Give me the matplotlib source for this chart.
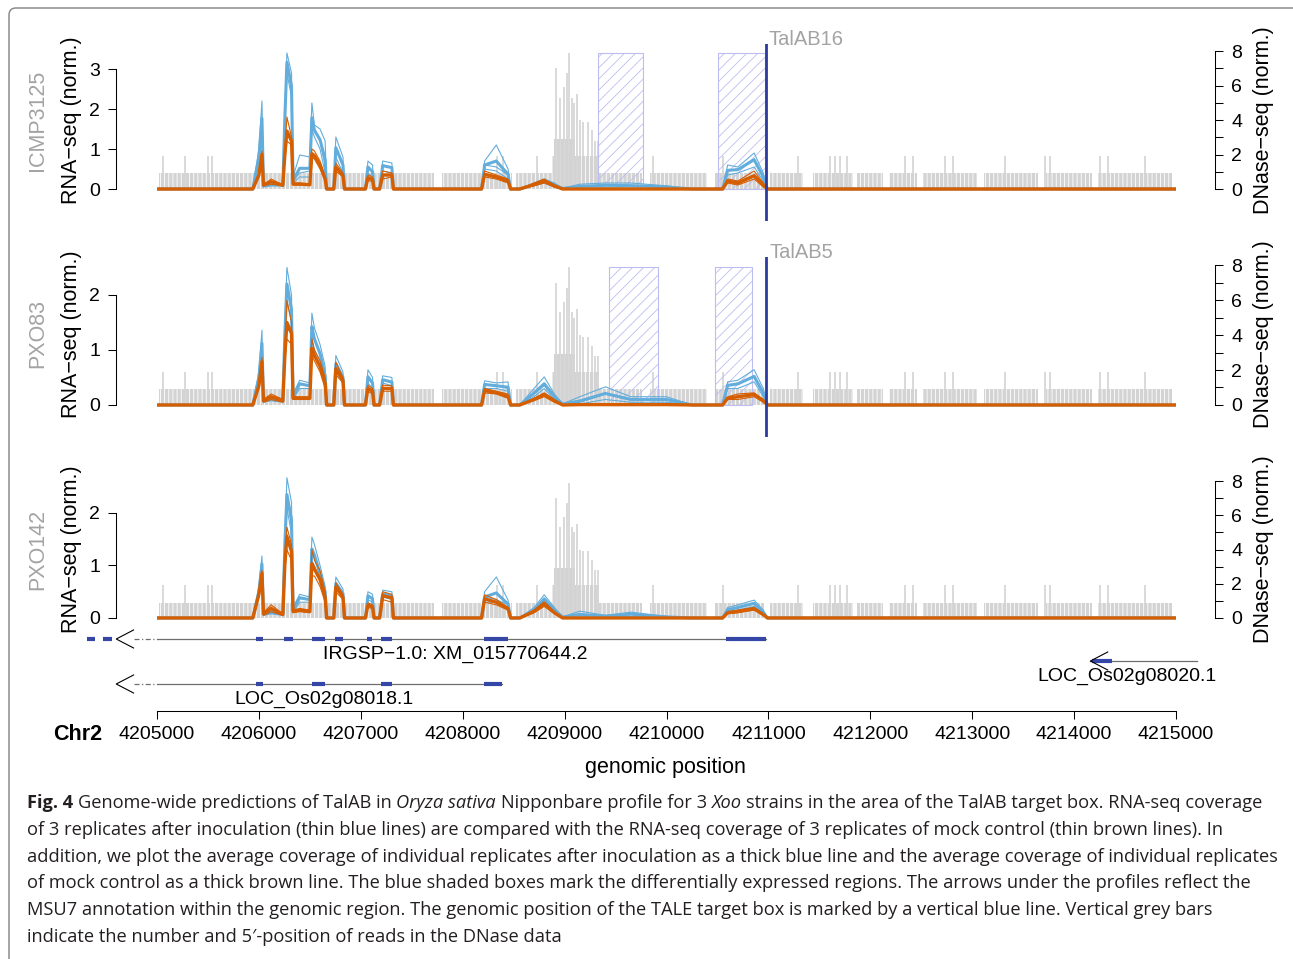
import numpy as np
import matplotlib
matplotlib.use("Agg")
import matplotlib.pyplot as plt
from matplotlib.patches import FancyBboxPatch, Rectangle
from matplotlib.transforms import IdentityTransform

W, H = 1293, 959
plt.rcParams['font.family'] = ['Liberation Sans', 'DejaVu Sans']
plt.rcParams['hatch.linewidth'] = 0.6

CHR_START = 4205000
CHR_END = 4215000
X_TICKS = [4205000, 4206000, 4207000, 4208000, 4209000, 4210000,
           4211000, 4212000, 4213000, 4214000, 4215000]

# RNA-seq coverage, knot positions (bp after CHR_START) shared by all strains
RNA_POS = [0, 940, 1000, 1030, 1045, 1120, 1235,
           1255, 1275, 1320, 1335, 1400, 1500, 1520, 1545, 1600, 1650, 1665,
           1735, 1755, 1825, 1840, 2045, 2070, 2115, 2130, 2185, 2215, 2305, 2320,
           3185, 3215, 3330, 3445, 3470,
           3560, 3700, 3800, 3900, 3980, 4150, 4400, 4650, 5000, 5250, 5550,
           5600, 5700, 5860, 5950, 5990, 10000]

# ICMP3125
icmp_blue = [
    [0, 0, 1.0, 2.2, 0.1, 0.15, 0.12,
     2.0, 3.4, 2.9, 0.3, 0.85, 0.8, 2.15, 1.6, 1.5, 1.2, 0,
     0, 1.3, 0.8, 0, 0, 0.7, 0.6, 0, 0, 0.7, 0.65, 0,
     0, 0.7, 1.1, 0.5, 0,
     0, 0.15, 0.25, 0.15, 0.02, 0.12, 0.15, 0.15, 0.08, 0, 0,
     0.6, 0.55, 0.9, 0.4, 0, 0],
    [0, 0, 0.8, 1.7, 0.08, 0.1, 0.1,
     1.8, 3.2, 2.5, 0.2, 0.4, 0.45, 1.7, 1.5, 1.2, 0.6, 0,
     0, 1.0, 0.6, 0, 0, 0.55, 0.4, 0, 0, 0.6, 0.55, 0,
     0, 0.6, 0.55, 0.35, 0,
     0, 0.1, 0.2, 0.1, 0.02, 0.05, 0.1, 0.08, 0.05, 0, 0,
     0.45, 0.5, 0.75, 0.3, 0, 0],
    [0, 0, 0.6, 1.4, 0.05, 0.08, 0.08,
     1.6, 2.9, 2.3, 0.15, 0.3, 0.3, 1.5, 1.3, 1.0, 0.4, 0,
     0, 0.8, 0.4, 0, 0, 0.4, 0.3, 0, 0, 0.45, 0.4, 0,
     0, 0.5, 0.45, 0.25, 0,
     0, 0.08, 0.15, 0.05, 0, 0.02, 0.03, 0.02, 0.02, 0, 0,
     0.35, 0.4, 0.55, 0.2, 0, 0],
]
icmp_brown = [
    [0, 0, 0.4, 0.95, 0.1, 0.25, 0.1,
     1.0, 1.8, 1.3, 0.15, 0.15, 0.12, 1.0, 0.95, 0.7, 0.3, 0,
     0, 0.65, 0.4, 0, 0, 0.35, 0.3, 0, 0, 0.45, 0.4, 0,
     0, 0.45, 0.35, 0.25, 0,
     0, 0.15, 0.25, 0.1, 0, 0, 0, 0, 0, 0, 0,
     0.25, 0.2, 0.45, 0.15, 0, 0],
    [0, 0, 0.35, 0.85, 0.12, 0.18, 0.1,
     0.9, 1.35, 1.2, 0.12, 0.12, 0.1, 0.85, 0.8, 0.6, 0.25, 0,
     0, 0.55, 0.3, 0, 0, 0.3, 0.2, 0, 0, 0.35, 0.35, 0,
     0, 0.35, 0.3, 0.2, 0,
     0, 0.1, 0.2, 0.08, 0, 0, 0, 0, 0, 0, 0,
     0.2, 0.15, 0.3, 0.1, 0, 0],
    [0, 0, 0.3, 0.8, 0.08, 0.12, 0.08,
     0.7, 1.2, 1.1, 0.1, 0.1, 0.1, 0.8, 0.75, 0.5, 0.2, 0,
     0, 0.45, 0.3, 0, 0, 0.2, 0.2, 0, 0, 0.25, 0.3, 0,
     0, 0.3, 0.25, 0.15, 0,
     0, 0.08, 0.15, 0.05, 0, 0, 0, 0, 0, 0, 0,
     0.15, 0.1, 0.25, 0.05, 0, 0],
]

# PXO83
pxo83_blue = [
    [0, 0, 0.6, 1.36, 0.1, 0.12, 0.1,
     1.5, 2.5, 2.0, 0.2, 0.45, 0.4, 1.67, 1.4, 1.1, 0.7, 0,
     0, 0.9, 0.6, 0, 0, 0.64, 0.5, 0, 0, 0.53, 0.5, 0,
     0, 0.44, 0.4, 0.42, 0,
     0, 0.3, 0.51, 0.2, 0.02, 0.15, 0.33, 0.15, 0.15, 0, 0,
     0.42, 0.45, 0.64, 0.3, 0, 0],
    [0, 0, 0.5, 1.1, 0.08, 0.1, 0.08,
     1.3, 2.2, 1.7, 0.15, 0.4, 0.35, 1.4, 1.2, 0.9, 0.5, 0,
     0, 0.75, 0.5, 0, 0, 0.5, 0.4, 0, 0, 0.45, 0.4, 0,
     0, 0.38, 0.35, 0.3, 0,
     0, 0.2, 0.35, 0.15, 0.02, 0.05, 0.2, 0.1, 0.1, 0, 0,
     0.35, 0.4, 0.5, 0.2, 0, 0],
    [0, 0, 0.4, 0.9, 0.05, 0.08, 0.05,
     1.1, 1.9, 1.5, 0.1, 0.3, 0.3, 1.2, 1.0, 0.8, 0.4, 0,
     0, 0.6, 0.4, 0, 0, 0.4, 0.3, 0, 0, 0.4, 0.35, 0,
     0, 0.3, 0.3, 0.25, 0,
     0, 0.15, 0.3, 0.1, 0.01, 0.02, 0.1, 0.05, 0.05, 0, 0,
     0.3, 0.3, 0.42, 0.15, 0, 0],
]
pxo83_brown = [
    [0, 0, 0.4, 0.87, 0.1, 0.2, 0.1,
     1.0, 1.9, 1.5, 0.15, 0.15, 0.15, 1.2, 1.0, 0.8, 0.5, 0,
     0, 0.78, 0.5, 0, 0, 0.36, 0.3, 0, 0, 0.36, 0.35, 0,
     0, 0.3, 0.25, 0.2, 0,
     0, 0.12, 0.22, 0.1, 0, 0.02, 0.02, 0.02, 0.02, 0, 0,
     0.15, 0.2, 0.22, 0.1, 0, 0],
    [0, 0, 0.35, 0.8, 0.08, 0.15, 0.08,
     0.9, 1.4, 1.3, 0.12, 0.12, 0.12, 1.0, 0.9, 0.7, 0.4, 0,
     0, 0.65, 0.45, 0, 0, 0.3, 0.25, 0, 0, 0.3, 0.3, 0,
     0, 0.27, 0.22, 0.15, 0,
     0, 0.1, 0.2, 0.08, 0, 0, 0, 0, 0, 0, 0,
     0.12, 0.15, 0.2, 0.08, 0, 0],
    [0, 0, 0.3, 0.7, 0.05, 0.1, 0.05,
     0.8, 1.2, 1.1, 0.1, 0.1, 0.1, 0.9, 0.8, 0.6, 0.3, 0,
     0, 0.55, 0.4, 0, 0, 0.25, 0.2, 0, 0, 0.25, 0.25, 0,
     0, 0.22, 0.2, 0.12, 0,
     0, 0.08, 0.15, 0.05, 0, 0, 0, 0, 0, 0, 0,
     0.1, 0.1, 0.15, 0.05, 0, 0],
]

# PXO142
pxo142_blue = [
    [0, 0, 0.6, 1.18, 0.1, 0.15, 0.1,
     1.6, 2.67, 2.2, 0.2, 0.45, 0.4, 1.54, 1.4, 1.0, 0.6, 0,
     0, 0.78, 0.55, 0, 0, 0.5, 0.45, 0, 0, 0.53, 0.5, 0,
     0, 0.5, 0.78, 0.34, 0,
     0, 0.2, 0.44, 0.2, 0.02, 0.13, 0.05, 0.11, 0.03, 0, 0,
     0.2, 0.25, 0.34, 0.15, 0, 0],
    [0, 0, 0.5, 1.0, 0.08, 0.1, 0.08,
     1.4, 2.28, 1.8, 0.15, 0.4, 0.35, 1.3, 1.2, 0.8, 0.5, 0,
     0, 0.65, 0.45, 0, 0, 0.42, 0.35, 0, 0, 0.45, 0.4, 0,
     0, 0.4, 0.35, 0.25, 0,
     0, 0.15, 0.35, 0.15, 0.02, 0.05, 0.03, 0.08, 0.02, 0, 0,
     0.15, 0.2, 0.28, 0.1, 0, 0],
    [0, 0, 0.4, 0.9, 0.05, 0.08, 0.05,
     1.2, 2.1, 1.6, 0.1, 0.3, 0.3, 1.1, 1.0, 0.7, 0.4, 0,
     0, 0.55, 0.4, 0, 0, 0.35, 0.3, 0, 0, 0.4, 0.35, 0,
     0, 0.3, 0.3, 0.2, 0,
     0, 0.1, 0.3, 0.1, 0.01, 0.02, 0.02, 0.03, 0.01, 0, 0,
     0.12, 0.15, 0.22, 0.08, 0, 0],
]
pxo142_brown = [
    [0, 0, 0.5, 0.91, 0.1, 0.25, 0.08,
     1.2, 1.73, 1.4, 0.15, 0.18, 0.15, 1.3, 1.1, 0.9, 0.5, 0,
     0, 0.67, 0.45, 0, 0, 0.29, 0.25, 0, 0, 0.5, 0.45, 0,
     0, 0.44, 0.35, 0.2, 0,
     0, 0.15, 0.31, 0.12, 0, 0, 0, 0, 0, 0, 0,
     0.12, 0.15, 0.2, 0.08, 0, 0],
    [0, 0, 0.45, 0.85, 0.08, 0.18, 0.06,
     1.0, 1.6, 1.3, 0.12, 0.15, 0.12, 1.0, 0.9, 0.7, 0.4, 0,
     0, 0.6, 0.4, 0, 0, 0.25, 0.2, 0, 0, 0.42, 0.4, 0,
     0, 0.35, 0.3, 0.18, 0,
     0, 0.12, 0.28, 0.1, 0, 0, 0, 0, 0, 0, 0,
     0.1, 0.12, 0.18, 0.06, 0, 0],
    [0, 0, 0.4, 0.8, 0.05, 0.12, 0.05,
     0.9, 1.3, 1.1, 0.1, 0.12, 0.1, 0.8, 0.8, 0.6, 0.3, 0,
     0, 0.5, 0.35, 0, 0, 0.2, 0.18, 0, 0, 0.35, 0.3, 0,
     0, 0.3, 0.25, 0.15, 0,
     0, 0.1, 0.22, 0.08, 0, 0, 0, 0, 0, 0, 0,
     0.08, 0.1, 0.15, 0.05, 0, 0],
]

# DNase-seq: dense runs of single reads (start, end, height) and single taller bars
DNASE_RUNS = [(20, 2720, 0.9), (2800, 3480, 0.9), (3520, 3880, 0.9),
              (3880, 4340, 1.9), (3900, 4100, 2.9), (4340, 4760, 0.9),
              (4840, 5400, 0.9), (5480, 5960, 0.9), (6020, 6340, 0.9),
              (6440, 6830, 0.9), (6870, 7120, 0.9), (7180, 7460, 0.9),
              (7520, 8050, 0.9), (8120, 8650, 0.9), (8720, 9180, 0.9),
              (9230, 9960, 0.9)]
DNASE_POS = [59, 275, 500, 540, 3337, 3395, 3729, 4867, 5554, 6290, 6605,
             6654, 6703, 6771, 7340, 7419, 7733, 7812, 8322, 8714, 8763,
             9254, 9333, 9696,
             3916, 3955, 3994, 4023, 4043, 4073, 4092, 4122, 4151, 4180,
             4230, 4269, 4298, 4328]
DNASE_H = [1.9, 1.9, 1.9, 1.9, 1.9, 1.9, 1.9, 1.9, 1.9, 1.9, 1.9,
           1.9, 1.9, 1.9, 1.9, 1.9, 1.9, 1.9, 1.9, 1.9, 1.9,
           1.9, 1.9, 1.9,
           7.0, 5.3, 5.9, 6.7, 7.9, 5.3, 5.0, 5.5, 4.0, 3.9,
           3.9, 3.4, 2.8, 2.8]

STRAINS = ['ICMP3125', 'PXO83', 'PXO142']
TALES = ['TalAB16', 'TalAB5', None]
TARGETS = [4210976, 4210980, None]
DE_BOXES = [[(4209328, 4209769), (4210505, 4210967)],
            [(4209440, 4209917), (4210476, 4210840)],
            []]
RNA_TICKS = [[0, 1, 2, 3], [0, 1, 2], [0, 1, 2]]
DNASE_TICKS = [0, 1, 2, 3, 4, 5, 6, 7, 8]
DNASE_LABELS = ['0', '', '2', '', '4', '', '6', '', '8']

# gene models (MSU7 / IRGSP)
GENE_NAMES = ['IRGSP\u22121.0: XM_015770644.2', 'LOC_Os02g08018.1', 'LOC_Os02g08020.1']
GENE_SPANS = [(4204600, 4210976), (4204600, 4208386), (4214160, 4215206)]
GENE_EXONS = [
    [(4205972, 4206040), (4206246, 4206335), (4206521, 4206649), (4206747, 4206825),
     (4207065, 4207110), (4207198, 4207306), (4208209, 4208445), (4210584, 4210976)],
    [(4205972, 4206040), (4206521, 4206649), (4207198, 4207306), (4208209, 4208386)],
    [(4214176, 4214372)],
]
GENE_OUTSIDE_EXONS = [[(4204310, 4204390), (4204470, 4204555)], [], []]
GENE_LABEL_X = [4207930, 4206640, 4214520]

BLUE = '#62ADDC'
BROWN = '#D55E00'
GREY = '#D3D3D3'
TARGET = '#2B3C9E'
EXON = '#3446A6'
BOX = '#BDBDF0'
LABEL_GREY = '#A3A3A3'

fig = plt.figure(figsize=(W / 100, H / 100), dpi=100)
PT = 0.72  # points per pixel at 100 dpi


def px_axes(left, top, right, bottom):
    return fig.add_axes([left / W, 1 - bottom / H, (right - left) / W, (bottom - top) / H])


panels = [
    dict(blue=icmp_blue, brown=icmp_brown, top=44, bottom=221, rna_lim=(-0.8, 3.625),
         dn_lim=(-1.855, 8.406), label_y=120),
    dict(blue=pxo83_blue, brown=pxo83_brown, top=257, bottom=437, rna_lim=(-0.582, 2.69),
         dn_lim=(-1.83, 8.46), label_y=334),
    dict(blue=pxo142_blue, brown=pxo142_brown, top=472, bottom=650, rna_lim=(-0.61, 2.78),
         dn_lim=(-1.87, 8.53), label_y=549),
]

x_rna = CHR_START + np.array(RNA_POS)
run_start = CHR_START + np.array([r[0] for r in DNASE_RUNS])
run_width = np.array([r[1] - r[0] for r in DNASE_RUNS])
run_h = np.array([r[2] for r in DNASE_RUNS])

for i, p in enumerate(panels):
    ax = px_axes(157, p['top'], 1176, p['bottom'])
    ax_d = ax.twinx()
    ax.set_zorder(ax_d.get_zorder() + 1)
    ax.patch.set_visible(False)
    for a, lim in ((ax, p['rna_lim']), (ax_d, p['dn_lim'])):
        a.set_xlim(CHR_START, CHR_END)
        a.set_ylim(*lim)
        a.tick_params(bottom=False, labelbottom=False)
        for s in ('top', 'bottom'):
            a.spines[s].set_visible(False)

    # DNase bars
    ax_d.bar(run_start, run_h, width=run_width, align='edge', color=GREY,
             edgecolor='white', hatch='||||', linewidth=0)
    ax_d.vlines(CHR_START + np.array(DNASE_POS), 0, DNASE_H, color=GREY, lw=1.2)

    # differentially expressed regions
    blue = np.array(p['blue'])
    brown = np.array(p['brown'])
    box_top = max(blue.max(), brown.max())
    for s, e in DE_BOXES[i]:
        ax.add_patch(Rectangle((s, 0), e - s, box_top, facecolor='none',
                               edgecolor=BOX, hatch='///', lw=0.8, zorder=2))

    for rep in blue:
        ax.plot(x_rna, rep, color=BLUE, lw=0.8, zorder=3)
    ax.plot(x_rna, blue.mean(axis=0), color=BLUE, lw=2.2, zorder=4)
    for rep in brown:
        ax.plot(x_rna, rep, color=BROWN, lw=0.8, zorder=5)
    ax.plot(x_rna, brown.mean(axis=0), color=BROWN, lw=2.4, zorder=6)

    if TARGETS[i] is not None:
        ax.axvline(TARGETS[i], color=TARGET, lw=2, zorder=7)
        ax.annotate(TALES[i], xy=(TARGETS[i], 1), xycoords=('data', 'axes fraction'),
                    xytext=(3, -1), textcoords='offset pixels', ha='left',
                    va='baseline', color=LABEL_GREY, fontsize=14.5)

    # left RNA axis
    ax.spines['right'].set_visible(False)
    ax.spines['left'].set_position(('outward', 41 * PT))
    ax.spines['left'].set_bounds(RNA_TICKS[i][0], RNA_TICKS[i][-1])
    ax.set_yticks(RNA_TICKS[i])
    ax.tick_params(axis='y', direction='out', length=8 * PT, width=0.75, pad=8 * PT,
                   labelsize=14)
    # right DNase axis
    ax_d.spines['left'].set_visible(False)
    ax_d.spines['right'].set_position(('outward', 39 * PT))
    ax_d.spines['right'].set_bounds(0, 8)
    ax_d.set_yticks(DNASE_TICKS)
    ax_d.set_yticklabels(DNASE_LABELS)
    ax_d.tick_params(axis='y', direction='out', length=8 * PT, width=0.75, pad=8 * PT,
                     labelsize=14)
    for a in (ax, ax_d):
        for s in a.spines.values():
            s.set_linewidth(0.75)

    ly = 1 - p['label_y'] / H
    fig.text(71 / W, ly, 'RNA\u2212seq (norm.)', rotation=90, ha='center', va='center',
             fontsize=15.5)
    fig.text(37.5 / W, ly, STRAINS[i], rotation=90, ha='center', va='center',
             fontsize=15.5, color=LABEL_GREY)
    fig.text(1263 / W, ly, 'DNase\u2212seq (norm.)', rotation=90, ha='center',
             va='center', fontsize=15.5)

# gene track and genomic axis
ax_g = px_axes(157, 625, 1176, 711)
ax_g.set_xlim(CHR_START, CHR_END)
ax_g.set_ylim(711, 625)
for s in ('top', 'left', 'right'):
    ax_g.spines[s].set_visible(False)
ax_g.spines['bottom'].set_bounds(CHR_START, CHR_END)
ax_g.spines['bottom'].set_linewidth(0.75)
ax_g.set_yticks([])
ax_g.set_xticks(X_TICKS)
ax_g.set_xticklabels([str(t) for t in X_TICKS])
ax_g.tick_params(axis='x', direction='out', length=8 * PT, width=0.75, pad=5, labelsize=14)
ax_g.patch.set_visible(False)

rows = [639, 684, 661]
for g, row in enumerate(rows):
    start, end = GENE_SPANS[g]
    solid_from = max(start, CHR_START)
    ax_g.plot([solid_from, end], [row, row], color='#6E6E6E', lw=0.9, clip_on=False)
    if start < CHR_START:
        ax_g.plot([start + 175, CHR_START], [row, row], color='#6E6E6E', lw=0.9,
                  ls=(0, (4, 2, 1, 2)), clip_on=False)
    for s, e in GENE_EXONS[g]:
        ax_g.plot([s, e], [row, row], color=EXON, lw=3, solid_capstyle='butt',
                  clip_on=False)
    for s, e in GENE_OUTSIDE_EXONS[g]:
        ax_g.plot([s, e], [row, row], color=EXON, lw=3, solid_capstyle='butt',
                  clip_on=False)
    ax_g.plot([start + 170, start, start + 170], [row - 9, row, row + 9], color='black',
              lw=0.8, clip_on=False)
    ax_g.text(GENE_LABEL_X[g], row + 15, GENE_NAMES[g], ha='center', va='center',
              fontsize=14)

fig.text(78 / W, 1 - 734 / H, 'Chr2', ha='center', va='center', fontsize=15.5,
         weight='bold')
fig.text(665 / W, 1 - 767 / H, 'genomic position', ha='center', va='center',
         fontsize=15.5)

# caption
CAPTION = [
    [('Fig. 4', 'bold'), ('Genome-wide predictions of TalAB in', 'normal'),
     ('Oryza sativa', 'italic'), ('Nipponbare profile for 3', 'normal'), ('Xoo', 'italic'),
     ('strains in the area of the TalAB target box. RNA-seq coverage', 'normal')],
    [('of 3 replicates after inoculation (thin blue lines) are compared with the RNA-seq '
      'coverage of 3 replicates of mock control (thin brown lines). In', 'normal')],
    [('addition, we plot the average coverage of individual replicates after inoculation '
      'as a thick blue line and the average coverage of individual replicates', 'normal')],
    [('of mock control as a thick brown line. The blue shaded boxes mark the differentially '
      'expressed regions. The arrows under the profiles reflect the', 'normal')],
    [('MSU7 annotation within the genomic region. The genomic position of the TALE target '
      'box is marked by a vertical blue line. Vertical grey bars', 'normal')],
    [('indicate the number and 5\u2032-position of reads in the DNase data', 'normal')],
]
CAP_FONT = ['Open Sans', 'DejaVu Sans']
renderer = fig.canvas.get_renderer()


def cap_text(x, y, s, size, style):
    kw = {}
    if style == 'bold':
        kw['weight'] = 'bold'
    if style == 'italic':
        kw['style'] = 'italic'
    return fig.text(x / W, 1 - y / H, s, fontsize=size, family=CAP_FONT, color='#231F20',
                    ha='left', va='baseline', **kw)


def width_of(s, size, style):
    t = cap_text(0, 0, s, size, style)
    w = t.get_window_extent(renderer).width
    t.remove()
    return w


cap_size = 12 * 1245 / width_of(CAPTION[2][0][0], 12, 'normal')
space = width_of('n n', cap_size, 'normal') - width_of('nn', cap_size, 'normal')
for li, pieces in enumerate(CAPTION):
    x = 27
    y = 808.5 + li * 26.6
    for s, style in pieces:
        t = cap_text(x, y, s, cap_size, style)
        x += t.get_window_extent(renderer).width + space

frame = FancyBboxPatch((9, -30), 1320, H - 8 + 30, boxstyle='round,pad=0,rounding_size=7',
                       transform=IdentityTransform(), facecolor='none',
                       edgecolor='#8C8C8C', lw=1.1)
fig.add_artist(frame)

fig.savefig('out.png', dpi=100)
